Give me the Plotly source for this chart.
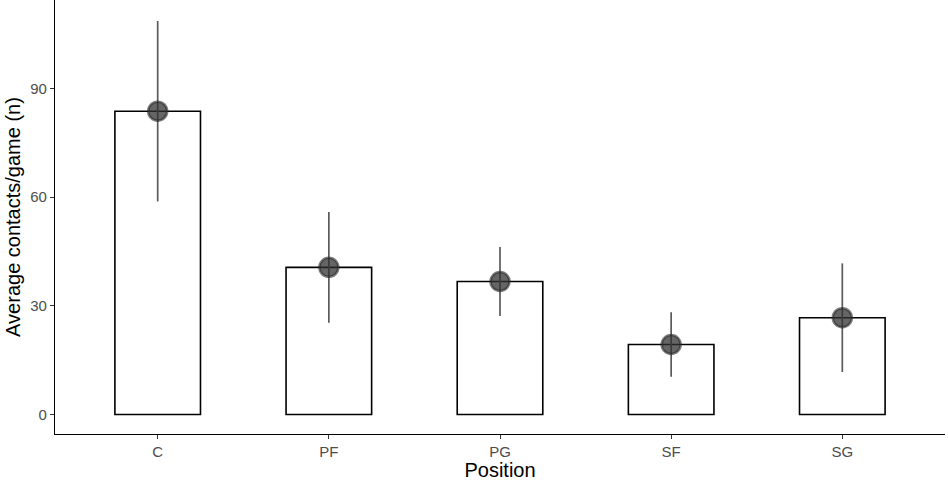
import plotly.graph_objects as go

positions = ["C", "PF", "PG", "SF", "SG"]
mean_contacts = [83.7, 40.6, 36.7, 19.3, 26.7]
sd_contacts = [24.9, 15.3, 9.5, 8.9, 15.0]

fig = go.Figure()

# bars
fig.add_trace(go.Bar(
    x=positions, y=mean_contacts, width=0.5,
    marker=dict(color="white", line=dict(color="black", width=1.6)),
    showlegend=False, hoverinfo="skip",
))

# mean +/- sd
fig.add_trace(go.Scatter(
    x=positions, y=mean_contacts, mode="markers",
    marker=dict(size=19, color="rgba(50,50,50,0.75)", line=dict(color="rgba(40,40,40,0.6)", width=2.5)),
    error_y=dict(type="data", array=sd_contacts, visible=True, thickness=1.7, width=0, color="#5a5a5a"),
    showlegend=False,
))

fig.update_layout(
    width=948, height=481,
    margin=dict(l=55, r=3, t=0, b=47),
    plot_bgcolor="white", paper_bgcolor="white",
    font=dict(family="Liberation Sans, Arial, sans-serif"),
    xaxis=dict(
        range=[-0.6, 4.6], showline=True, linecolor="black", linewidth=1.3,
        ticks="outside", ticklen=4, tickcolor="#333333", tickwidth=1.1,
        tickfont=dict(size=15, color="#4d4d4d"),
        title=dict(text="Position", font=dict(size=20, color="black"), standoff=2),
        showgrid=False, zeroline=False,
    ),
    yaxis=dict(
        range=[-5.4, 114.4], showline=True, linecolor="black", linewidth=1.3,
        ticks="outside", ticklen=4, tickcolor="#333333", tickwidth=1.1,
        tickvals=[0, 30, 60, 90], tickfont=dict(size=15, color="#4d4d4d"),
        title=dict(text="Average contacts/game (n)", font=dict(size=20, color="black"), standoff=4),
        showgrid=False, zeroline=False,
    ),
)

# page body has an 8px default margin, drop it so the figure fills the window
fig.write_html("out.html", config={"displayModeBar": False},
               post_script="document.body.style.margin='0';")
